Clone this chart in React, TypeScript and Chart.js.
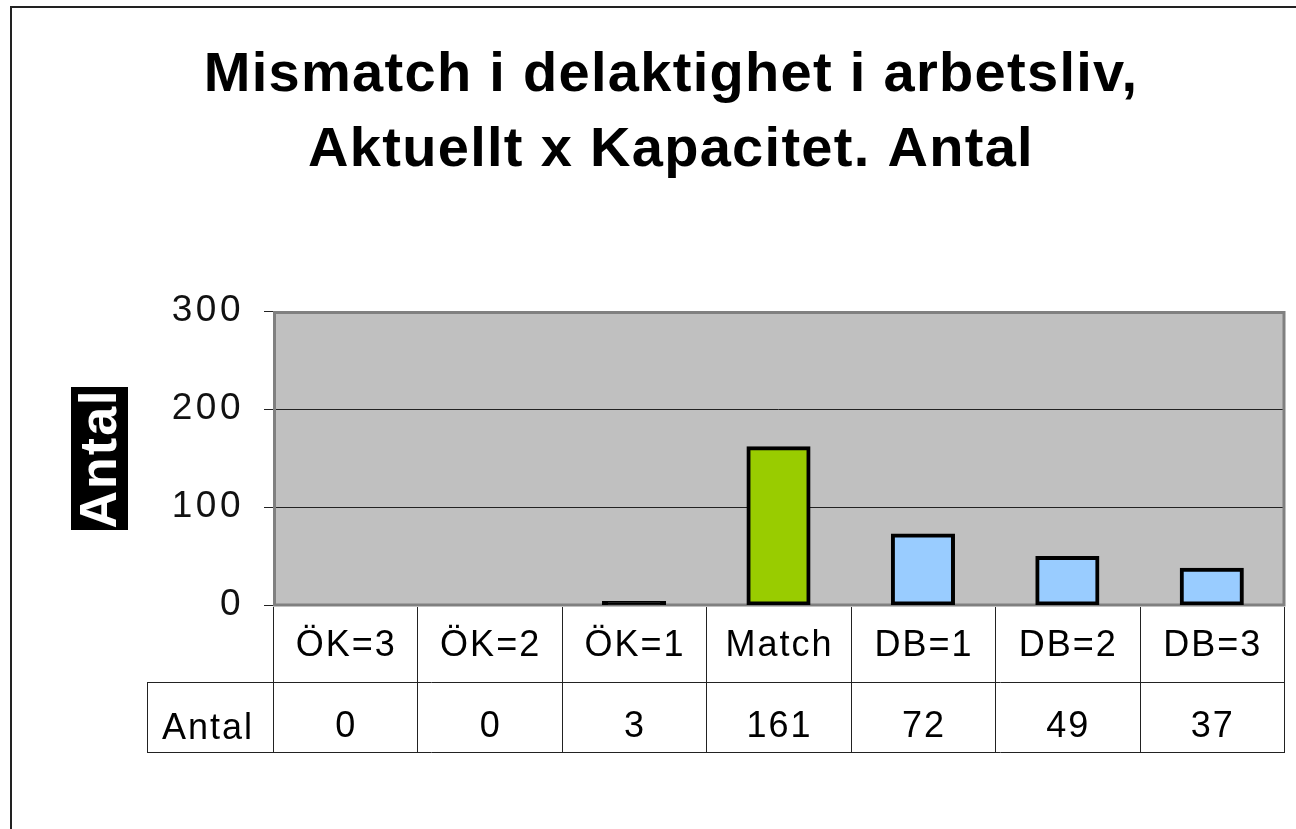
import React, { useEffect, useRef } from 'react';
import { Chart, registerables } from 'chart.js';

Chart.register(...registerables);

const titleLines = ['Mismatch i delaktighet i arbetsliv,', 'Aktuellt x Kapacitet. Antal'];
const categories = ['ÖK=3', 'ÖK=2', 'ÖK=1', 'Match', 'DB=1', 'DB=2', 'DB=3'];
const values = [0, 0, 3, 161, 72, 49, 37];
const barColors = ['#000000', '#000000', '#000000', '#99CC00', '#99CCFF', '#99CCFF', '#99CCFF'];
const seriesName = 'Antal';
const yAxisTitle = 'Antal';
const yMin = 0;
const yMax = 300;
const yStep = 100;

const FONT = "'Liberation Sans', Arial, sans-serif";

const decorPlugin = {
  id: 'decor',
  beforeDraw(chart: any) {
    const { ctx, chartArea: ca, width, height } = chart;
    ctx.save();
    ctx.fillStyle = '#ffffff';
    ctx.fillRect(0, 0, width, height);
    // outer frame
    ctx.strokeStyle = '#222222';
    ctx.lineWidth = 2;
    ctx.strokeRect(11, 7, width + 40, height + 40);
    // plot background
    ctx.fillStyle = '#C0C0C0';
    ctx.fillRect(ca.left, ca.top, ca.right - ca.left, ca.bottom - ca.top);
    ctx.restore();
    (ctx as any).letterSpacing = '3.5px';
  },
  beforeDatasetsDraw(chart: any) {
    const { ctx, chartArea: ca } = chart;
    ctx.save();
    ctx.strokeStyle = '#808080';
    ctx.lineWidth = 3;
    ctx.strokeRect(ca.left + 1.5, ca.top + 1.5, ca.right - ca.left - 1.5, ca.bottom - ca.top - 1.5);
    ctx.restore();
  },
  afterDraw(chart: any) {
    const { ctx, chartArea: ca } = chart;
    const xs = chart.scales.x;
    ctx.save();
    // title
    (ctx as any).letterSpacing = '1.3px';
    ctx.fillStyle = '#000000';
    ctx.font = `bold 56px ${FONT}`;
    ctx.textAlign = 'center';
    ctx.textBaseline = 'alphabetic';
    ctx.fillText(titleLines[0], 671, 91);
    ctx.fillText(titleLines[1], 671, 166);

    // y axis title
    ctx.fillStyle = '#000000';
    ctx.fillRect(71, 387, 57, 143);
    ctx.save();
    ctx.translate(100, 458.5);
    ctx.rotate(-Math.PI / 2);
    (ctx as any).letterSpacing = '2px';
    ctx.fillStyle = '#ffffff';
    ctx.font = `bold 52px ${FONT}`;
    ctx.textAlign = 'center';
    ctx.textBaseline = 'middle';
    ctx.fillText(yAxisTitle, 0, 2);
    ctx.restore();

    // data table
    const n = categories.length;
    const catW = (ca.right - ca.left) / n;
    const row1Top = ca.bottom;
    const row1Bot = ca.bottom + 77;
    const row2Bot = ca.bottom + 147;
    const labelLeft = 147;
    ctx.strokeStyle = '#222222';
    ctx.lineWidth = 1;
    ctx.beginPath();
    for (let i = 0; i <= n; i++) {
      const x = Math.round(xs.getPixelForValue(Math.min(i, n - 1)) + (i === n ? catW / 2 : -catW / 2)) + 0.5;
      ctx.moveTo(x, row1Top + 2);
      ctx.lineTo(x, row2Bot);
    }
    ctx.moveTo(labelLeft + 0.5, row1Bot);
    ctx.lineTo(labelLeft + 0.5, row2Bot);
    ctx.moveTo(labelLeft, row1Bot + 0.5);
    ctx.lineTo(ca.right + 1, row1Bot + 0.5);
    ctx.moveTo(labelLeft, row2Bot + 0.5);
    ctx.lineTo(ca.right + 1, row2Bot + 0.5);
    ctx.stroke();

    (ctx as any).letterSpacing = '2px';
    ctx.fillStyle = '#000000';
    ctx.font = `36px ${FONT}`;
    ctx.textAlign = 'center';
    ctx.textBaseline = 'alphabetic';
    for (let i = 0; i < n; i++) {
      const cx = xs.getPixelForValue(i) + 1;
      ctx.fillText(categories[i], cx, row1Top + 51);
      ctx.fillText(String(values[i]), cx, row1Bot + 55);
    }
    ctx.textAlign = 'left';
    ctx.fillText(seriesName, 162, row1Bot + 57);
    ctx.restore();
  },
};

export default function App() {
  const ref = useRef<HTMLCanvasElement>(null);
  useEffect(() => {
    if (!ref.current) return;
    const chart = new Chart(ref.current, {
      type: 'bar',
      data: {
        labels: categories,
        datasets: [
          {
            label: seriesName,
            data: values,
            backgroundColor: barColors,
            borderColor: '#000000',
            borderWidth: 4,
            borderSkipped: false,
            inflateAmount: 1,
            barPercentage: 0.43,
            categoryPercentage: 1,
          },
        ],
      },
      options: {
        responsive: false,
        animation: false,
        layout: { padding: { left: 0, top: 311, right: 12, bottom: 224 } },
        plugins: {
          legend: { display: false },
          title: { display: false },
          tooltip: { enabled: false },
        },
        scales: {
          x: {
            display: false,
            grid: { display: false },
          },
          y: {
            min: yMin,
            max: yMax,
            afterFit: (s: any) => {
              s.width = 273;
            },
            border: { display: false },
            grid: {
              color: '#222222',
              lineWidth: 1,
              drawTicks: true,
              tickLength: 9,
              tickColor: '#222222',
            },
            ticks: {
              stepSize: yStep,
              color: '#111111',
              padding: 20,
              font: { family: FONT, size: 37 },
            },
          },
        },
      },
      plugins: [decorPlugin],
    });
    return () => chart.destroy();
  }, []);
  return (
    <div style={{ position: 'absolute', left: 0, top: 0, width: 1296, height: 829 }}>
      <canvas ref={ref} width={1296} height={829} />
    </div>
  );
}
